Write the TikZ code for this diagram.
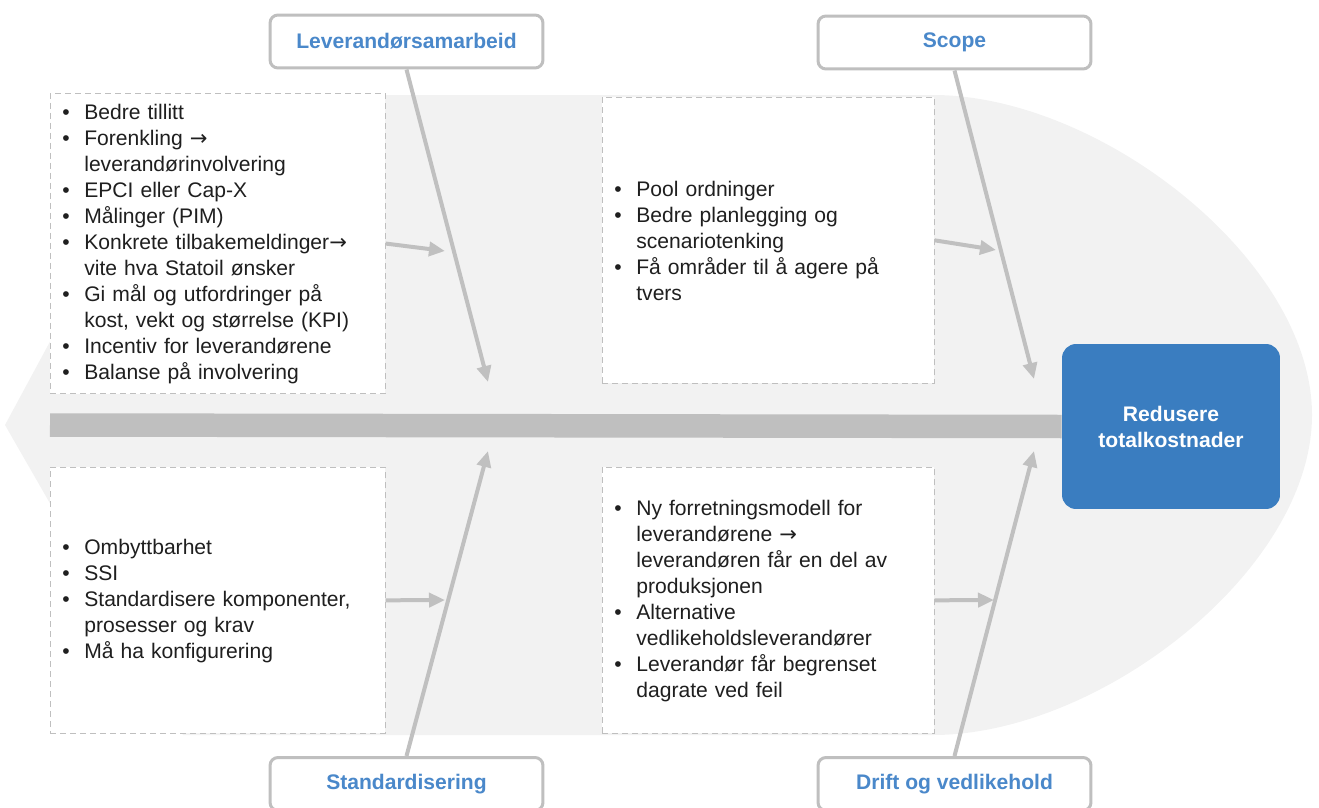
\documentclass[tikz,border=0pt]{standalone}
\usepackage{fontspec}
\setmainfont{Liberation Sans}
\newfontfamily\pilfont{DejaVu Sans}
\usetikzlibrary{arrows.meta}
\definecolor{bakgrunnfill}{HTML}{F2F2F2}
\definecolor{ryggfill}{HTML}{BFBFBF}
\definecolor{pilgraa}{HTML}{C0C0C0}
\definecolor{rammegraa}{HTML}{BFBFBF}
\definecolor{etiketttekst}{HTML}{4A88CA}
\definecolor{maalblaa}{HTML}{3A7DC0}
\definecolor{brodtekst}{HTML}{1F1F1F}
\setlength{\parskip}{0pt}
\newcommand{\pkt}[1]{\par\hangindent=0.44cm\hangafter=1\noindent\makebox[0.44cm][l]{\textbullet}#1\par}
\newcommand{\pil}{{\pilfont →}}
\newcommand{\brod}{\fontsize{12}{14.8}\selectfont}
\tikzset{
  punkter/.style  = {font=\brod, draw=rammegraa, dash pattern=on 0.12cm off 0.08cm, fill=white,
                     anchor=north west, inner xsep=0.24cm, inner ysep=0pt, align=left,
                     text=brodtekst, execute at end node={\par\vspace*{0.2cm}}},
  etikett/.style  = {font=\brod\bfseries, draw=rammegraa, line width=0.06cm, rounded corners=0.16cm,
                     fill=white, minimum width=5.46cm, minimum height=1.06cm, text=etiketttekst},
  maal/.style     = {font=\brod\bfseries, fill=maalblaa, rounded corners=0.28cm, minimum width=4.36cm,
                     minimum height=3.3cm, text=white, align=center},
  pil/.style      = {-{Triangle[length=0.32cm,width=0.28cm]}, line width=0.08cm, draw=pilgraa},
  rygg/.style     = {draw=ryggfill, line width=0.47cm},
}
\begin{document}
\begin{tikzpicture}[x=0.02cm, y=-0.02cm]
\useasboundingbox (0,0) rectangle (1319,808);

%% fiskekropp
\fill[bakgrunnfill] (5,425) -- (183,95) -- (933,95)
  .. controls (1100,95) and (1312,260) .. (1312,415)
  .. controls (1312,570) and (1100,735) .. (933,735) -- (183,735) -- cycle;

%% ryggrad
\coordinate (hale) at (50,425);
\node[maal] (maal) at (1171,426.5) {Redusere\\totalkostnader};
\draw[rygg] (hale) -- (maal.west);

%% punktlister
\node[punkter, text width=6.22cm, minimum height=5.94cm] (boks1) at (50,93) {%
  \pkt{Bedre tillitt}
  \pkt{Forenkling \pil\newline leverandørinvolvering}
  \pkt{EPCI eller Cap-X}
  \pkt{Målinger (PIM)}
  \pkt{Konkrete tilbakemeldinger\pil\newline vite hva Statoil ønsker}
  \pkt{Gi mål og utfordringer på\newline kost, vekt og størrelse (KPI)}
  \pkt{Incentiv for leverandørene}
  \pkt{Balanse på involvering}};
\node[punkter, text width=6.16cm, minimum height=5.72cm] (boks2) at (602,97) {%
  \pkt{Pool ordninger}
  \pkt{Bedre planlegging og\newline scenariotenking}
  \pkt{Få områder til å agere på\newline tvers}};
\node[punkter, text width=6.22cm, minimum height=5.32cm] (boks3) at (50,467) {%
  \pkt{Ombyttbarhet}
  \pkt{SSI}
  \pkt{Standardisere komponenter,\newline prosesser og krav}
  \pkt{Må ha konfigurering}};
\node[punkter, text width=6.16cm, minimum height=5.32cm] (boks4) at (602,467) {%
  \pkt{Ny forretningsmodell for\newline leverandørene \pil\newline leverandøren får en del av\newline produksjonen}
  \pkt{Alternative\newline vedlikeholdsleverandører}
  \pkt{Leverandør får begrenset\newline dagrate ved feil}};

%% hovedkategorier
\node[etikett] (lev)   at (406.5,41.5) {Leverandørsamarbeid};
\node[etikett] (scope) at (954.5,42.5) {Scope};
\node[etikett] (std)   at (406.5,784)  {Standardisering};
\node[etikett] (drift) at (954.5,784)  {Drift og vedlikehold};

%% piler
\coordinate (spiss1) at (488,382);
\coordinate (spiss2) at (1034,379);
\coordinate (spiss3) at (488,451);
\coordinate (spiss4) at (1034,451);
\coordinate (inn1) at (445,251);
\coordinate (inn2) at (996,250);
\coordinate (inn3) at (445,600);
\coordinate (inn4) at (994,600);
\draw[pil] (lev.south) -- (spiss1);
\draw[pil] (scope.south) -- (spiss2);
\draw[pil] (std.north) -- (spiss3);
\draw[pil] (drift.north) -- (spiss4);
\draw[pil] (boks1.east) -- (inn1);
\draw[pil] (boks2.east) -- (inn2);
\draw[pil] (boks3.east) -- (inn3);
\draw[pil] (boks4.east) -- (inn4);

\end{tikzpicture}
\end{document}
